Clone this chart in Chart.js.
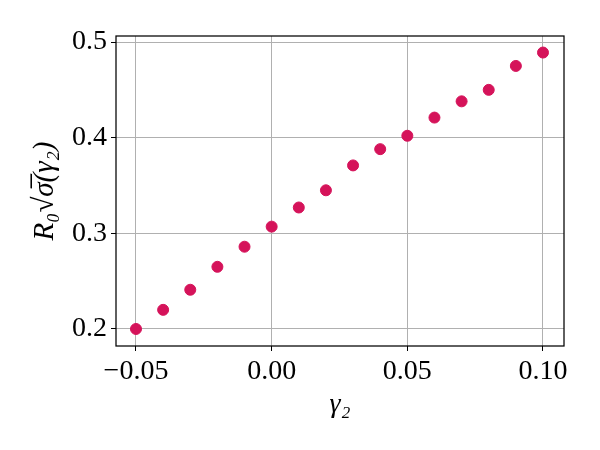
<!DOCTYPE html>
<html>
<head>
<meta charset="utf-8">
<script src="https://cdn.jsdelivr.net/npm/chart.js@4"></script>
<style>
  html, body { margin: 0; padding: 0; background: #fff; }
  #wrap { width: 600px; height: 450px; }
</style>
</head>
<body>
<div id="wrap"><canvas id="chart1" width="600" height="450"></canvas></div>
<script>
// datos
var gamma2 = [-0.05, -0.04, -0.03, -0.02, -0.01, 0.00, 0.01, 0.02, 0.03, 0.04, 0.05, 0.06, 0.07, 0.08, 0.09, 0.10];
var r0Sigma = [0.200, 0.220, 0.241, 0.265, 0.286, 0.307, 0.327, 0.345, 0.371, 0.388, 0.402, 0.421, 0.438, 0.450, 0.475, 0.489];
var xTicks = [-0.05, 0.00, 0.05, 0.10];
var yTicks = [0.2, 0.3, 0.4, 0.5];

var puntos = gamma2.map(function(g, i){ return {x: g, y: r0Sigma[i]}; });

var fuente = "'Liberation Serif', 'DejaVu Serif', serif";

// marco completo alrededor del area del grafico
var marco = {
  id: 'marco',
  afterDraw: function(chart){
    var a = chart.chartArea;
    var ctx = chart.ctx;
    ctx.save();
    ctx.strokeStyle = '#000';
    ctx.lineWidth = 1.25;
    ctx.strokeRect(a.left, a.top, a.right - a.left, a.bottom - a.top);
    ctx.restore();
  }
};

var chart1 = new Chart(document.getElementById('chart1').getContext('2d'), {
  type: 'scatter',
  data: {
    datasets: [{
      data: puntos,
      backgroundColor: '#d5135a',
      borderColor: '#d5135a',
      pointRadius: 5.5,
      pointHoverRadius: 5.5
    }]
  },
  options: {
    responsive: false,
    animation: false,
    plugins: {
      legend: { display: false },
      tooltip: { enabled: false }
    },
    layout: {
      padding: { left: 10, right: 36, top: 36, bottom: 10 }
    },
    scales: {
      x: {
        type: 'linear',
        min: -0.05737,
        max: 0.10774,
        afterBuildTicks: function(axis){
          axis.ticks = xTicks.map(function(v){ return {value: v}; });
        },
        afterFit: function(axis){ axis.height = 94; },
        ticks: {
          color: '#000',
          font: { family: fuente, size: 28 },
          padding: 4,
          maxRotation: 0,
          callback: function(v){
            var s = Math.abs(v).toFixed(2);
            return v < 0 ? '\u2212' + s : s;
          }
        },
        grid: { color: '#b0b0b0', lineWidth: 1, tickColor: '#000', tickLength: 5 },
        border: { display: false },
        title: {
          display: true,
          text: 'γ₂',
          color: '#000',
          font: { family: fuente, size: 28, style: 'italic' },
          padding: { top: 0, bottom: 19 }
        }
      },
      y: {
        type: 'linear',
        min: 0.1822,
        max: 0.5063,
        afterBuildTicks: function(axis){
          axis.ticks = yTicks.map(function(v){ return {value: v}; });
        },
        afterFit: function(axis){ axis.width = 106; },
        ticks: {
          color: '#000',
          font: { family: fuente, size: 28 },
          padding: 4,
          callback: function(v){ return v.toFixed(1); }
        },
        grid: { color: '#b0b0b0', lineWidth: 1, tickColor: '#000', tickLength: 5 },
        border: { display: false },
        title: {
          display: true,
          text: 'R₀√σ̅(γ₂)',
          color: '#000',
          font: { family: fuente, size: 29, style: 'italic' },
          padding: { top: 18, bottom: 0 }
        }
      }
    }
  },
  plugins: [marco]
});
</script>
</body>
</html>
